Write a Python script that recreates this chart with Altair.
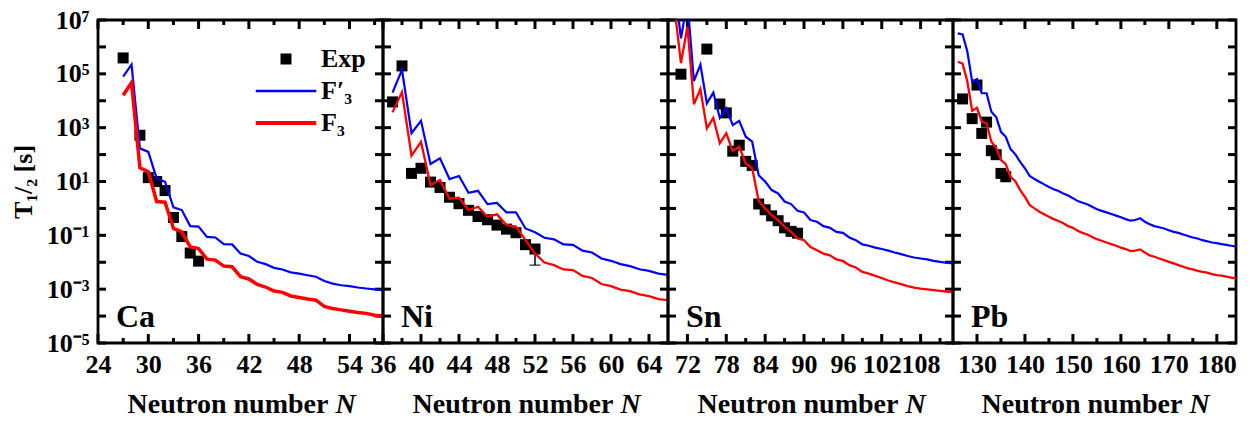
import altair as alt
import pandas as pd

FONT = "Liberation Serif"

elements = ["Ca", "Ni", "Sn", "Pb"]
series_names = ["Exp", "F\u2032\u2083", "F\u2083"]
series_colors = ["black", "blue", "red"]

ca_N = list(range(27, 59))
ca_F3p = [7.8e4, 2.2e5, 170, 126, 13, 9.8, 1.1, 0.87, 0.22, 0.21, 0.088, 0.083, 0.047, 0.046,
          0.021, 0.017, 0.0104, 0.0085, 0.0062, 0.0054, 0.0042, 0.0038, 0.0033, 0.0029, 0.0020,
          0.0016, 0.0014, 0.0013, 0.00115, 0.00106, 0.00098, 0.00091]
ca_F3 = [1.6e4, 4.7e4, 32, 23, 1.8, 1.7, 0.18, 0.135, 0.037, 0.032, 0.013, 0.012, 0.0072, 0.0068,
         0.0029, 0.0024, 0.0015, 0.0012, 0.00085, 0.00076, 0.00056, 0.00049, 0.00043, 0.00039,
         0.00023, 0.00019, 0.00017, 0.00015, 0.000135, 0.000126, 0.000108, 0.0001]
ca_exp_N = [27, 29, 30, 31, 32, 33, 34, 35, 36]
ca_exp_T = [3.9e5, 523, 13.9, 10.0, 4.6, 0.46, 0.09, 0.022, 0.011]

ni_N = list(range(37, 67))
ni_F3p = [2.0e4, 1.4e5, 620, 1800, 45, 73, 12.3, 16, 3.8, 4.5, 1.45, 1.6, 0.71, 0.71, 0.18, 0.13,
          0.081, 0.071, 0.046, 0.044, 0.027, 0.023, 0.0138, 0.0113, 0.0085, 0.0072, 0.0055,
          0.0048, 0.0038, 0.0034]
ni_F3 = [3700, 2.1e4, 91, 300, 7.4, 11.3, 2.3, 2.5, 0.87, 1.15, 0.49, 0.60, 0.24, 0.21, 0.066,
         0.021, 0.0098, 0.0078, 0.0054, 0.0051, 0.0031, 0.0026, 0.00155, 0.0013, 0.00097,
         0.00085, 0.00064, 0.00055, 0.00043, 0.00039]
ni_exp_N = [37, 38, 39, 40, 41, 42, 43, 44, 45, 46, 47, 48, 49, 50, 51, 52]
ni_exp_T = [9062, 1.97e5, 20, 31, 9.5, 6.0, 2.6, 1.5, 0.85, 0.5, 0.38, 0.24, 0.17, 0.125, 0.045, 0.031]
ni_err_N = [52]
ni_err_lo = [0.0078]
ni_err_hi = [0.045]

sn_N = list(range(70, 114))
sn_F3p = [2e8, 2.1e6, 5e7, 5.4e4, 2.2e5, 8e3, 2.0e4, 2300, 5200, 1250, 1780, 460, 300, 17, 10,
          4.8, 3.6, 1.8, 1.45, 0.81, 0.71, 0.37, 0.32, 0.22, 0.19, 0.135, 0.124, 0.083, 0.066,
          0.046, 0.041, 0.035, 0.031, 0.027, 0.023, 0.020, 0.017, 0.015, 0.0138, 0.0127,
          0.0113, 0.0104, 0.0096, 0.0090]
sn_F3 = [3e7, 2.5e5, 5.6e6, 7400, 2.7e4, 940, 2300, 265, 620, 135, 195, 47, 31, 1.9, 1.0, 0.56,
         0.37, 0.21, 0.135, 0.076, 0.066, 0.037, 0.028, 0.021, 0.018, 0.0127, 0.0112, 0.0078,
         0.0064, 0.0044, 0.0038, 0.0031, 0.0026, 0.0021, 0.0018, 0.00155, 0.0013, 0.00114,
         0.00105, 0.00098, 0.00092, 0.00087, 0.00082, 0.00078]
sn_exp_N = [71, 75, 77, 78, 79, 80, 81, 82, 83, 84, 85, 86, 87, 88, 89]
sn_exp_T = [9.7e4, 8.3e5, 7560, 3540, 134, 223, 56, 39.7, 1.46, 0.89, 0.53, 0.35, 0.19, 0.14, 0.12]

pb_N = list(range(126, 185))
pb_F3p = [3.2e6, 2.9e6, 6.6e5, 5.1e4, 6.4e4, 1.9e4, 1.9e4, 3900, 2500, 700, 460, 160, 102, 54, 31,
          16, 12.3, 9.8, 7.8, 6.3, 5.2, 4.4, 3.6, 3.0, 2.4, 1.87, 1.63, 1.42, 1.15, 0.93, 0.81,
          0.71, 0.62, 0.54, 0.47, 0.40, 0.35, 0.37, 0.43, 0.32, 0.26, 0.22, 0.20, 0.18, 0.155,
          0.135, 0.123, 0.107, 0.095, 0.083, 0.076, 0.066, 0.060, 0.054, 0.051, 0.047, 0.044,
          0.041, 0.039]
pb_F3 = [2.8e5, 2.4e5, 5.1e4, 4200, 5500, 1660, 1450, 300, 180, 63, 44, 15, 10.3, 4.8, 2.7, 1.32,
         1.0, 0.75, 0.61, 0.49, 0.40, 0.34, 0.28, 0.22, 0.19, 0.148, 0.124, 0.107, 0.087, 0.072,
         0.063, 0.054, 0.047, 0.041, 0.035, 0.031, 0.026, 0.027, 0.030, 0.023, 0.018, 0.016,
         0.0138, 0.012, 0.0104, 0.0091, 0.0078, 0.0068, 0.0059, 0.0054, 0.0048, 0.0044, 0.0041,
         0.0036, 0.0033, 0.0032, 0.0029, 0.0027, 0.0025]
pb_exp_N = [127, 129, 130, 131, 132, 133, 134, 135, 136]
pb_exp_T = [11700, 2166, 38300, 612, 1608, 140, 99, 20, 15]

x_domains = [[24, 58], [36, 66], [69, 113], [125, 184]]
x_major = [[24, 30, 36, 42, 48, 54],
           [36, 40, 44, 48, 52, 56, 60, 64],
           [72, 78, 84, 90, 96, 102, 108],
           [130, 140, 150, 160, 170, 180]]
x_minor = [[27, 33, 39, 45, 51, 57],
           [38, 42, 46, 50, 54, 58, 62],
           [75, 81, 87, 93, 99, 105, 111],
           [135, 145, 155, 165, 175]]
y_domain = [1e-5, 1e7]
y_ticks = [1e-5, 1e-4, 1e-3, 1e-2, 1e-1, 1e0, 1e1, 1e2, 1e3, 1e4, 1e5, 1e6, 1e7]
y_label_values = [1e-5, 1e-3, 1e-1, 1e1, 1e3, 1e5, 1e7]
y_label_texts = ["10\u207b\u2075", "10\u207b\u00b3", "10\u207b\u00b9", "10\u00b9",
                 "10\u00b3", "10\u2075", "10\u2077"]
x_title = "Neutron number"
x_title_var = "N"
y_title = "T\u2081/\u2082 [s]"

widths = [285, 285, 285, 283]
H = 323
MAJOR = 9
MINOR = 5
YTICK = 8
TICKW = 3
TICKC = "black"

label_expr = "'" + y_label_texts[-1] + "'"
for v, t in reversed(list(zip(y_label_values[:-1], y_label_texts[:-1]))):
    label_expr = f"datum.value < {v * 3} ? '{t}' : " + label_expr

all_N = [ca_N, ni_N, sn_N, pb_N]
all_F3p = [ca_F3p, ni_F3p, sn_F3p, pb_F3p]
all_F3 = [ca_F3, ni_F3, sn_F3, pb_F3]
all_exp_N = [ca_exp_N, ni_exp_N, sn_exp_N, pb_exp_N]
all_exp_T = [ca_exp_T, ni_exp_T, sn_exp_T, pb_exp_T]
red_widths = [3.5, 2.3, 2.3, 2.3]

LINE_PATH = "M-5.5,0H5.5"


def x_ticks(df, xs, y0, y1):
    return alt.Chart(df).mark_rule(color=TICKC, strokeWidth=TICKW).encode(
        x=alt.X("N:Q", scale=xs, axis=None), y=alt.value(y0), y2=alt.value(y1))


def y_ticks_layer(df, ys, x0, x1):
    return alt.Chart(df).mark_rule(color=TICKC, strokeWidth=TICKW).encode(
        y=alt.Y("T:Q", scale=ys, axis=None), x=alt.value(x0), x2=alt.value(x1))


panels = []
for i, el in enumerate(elements):
    W = widths[i]
    xs = alt.Scale(domain=x_domains[i], nice=False, zero=False)
    ys = alt.Scale(type="log", domain=y_domain, nice=False)

    title_left = W / 2 - 113.5
    ax_x_lab = alt.Axis(orient="bottom", values=x_major[i], ticks=False, tickSize=0,
                        domain=False, grid=False, labelFont=FONT, labelFontSize=26,
                        labelFontWeight="bold", labelColor="black", labelPadding=8,
                        labelFlush=False, labelOverlap=False,
                        title=x_title, titleFont=FONT, titleFontSize=28, titleFontWeight="bold",
                        titleColor="black", titleAlign="left", titleAngle=0,
                        titleBaseline="middle", titleX=title_left, titleY=61)
    ax_x_var = alt.Axis(orient="bottom", values=x_major[i], ticks=False, tickSize=0,
                        labels=False, domain=False, grid=False,
                        title=x_title_var, titleFont=FONT, titleFontSize=28,
                        titleFontWeight="bold", titleFontStyle="italic", titleColor="black",
                        titleAlign="left", titleAngle=0, titleBaseline="middle",
                        titleX=title_left + 208, titleY=61)
    if i == 0:
        ax_y_lab = alt.Axis(orient="left", values=y_label_values, ticks=False, tickSize=0,
                            domain=False, grid=False, labelExpr=label_expr, labelFont=FONT,
                            labelFontSize=26, labelFontWeight="bold", labelColor="black",
                            labelPadding=9, labelFlush=False, labelOverlap=False,
                            title=y_title, titleFont=FONT, titleFontSize=26,
                            titleFontWeight="bold", titleColor="black", titleAngle=270,
                            titleBaseline="middle", titleAlign="center",
                            titleX=-75, titleY=H / 2)
    else:
        ax_y_lab = None

    line_df = pd.DataFrame({"N": all_N[i], "Tb": all_F3p[i], "Tr": all_F3[i]})
    exp_df = pd.DataFrame({"N": all_exp_N[i], "T": all_exp_T[i], "series": series_names[0]})
    major_df = pd.DataFrame({"N": x_major[i]})
    minor_df = pd.DataFrame({"N": x_minor[i]})
    ytick_df = pd.DataFrame({"T": y_ticks})

    tick_layers = [
        x_ticks(major_df, xs, H, H - MAJOR),
        x_ticks(major_df, xs, 0, MAJOR),
        x_ticks(minor_df, xs, H, H - MINOR),
        x_ticks(minor_df, xs, 0, MINOR),
        y_ticks_layer(ytick_df, ys, 0, YTICK),
        y_ticks_layer(ytick_df, ys, W, W - YTICK),
    ]

    if i == 0:
        leg = alt.Legend(title=None, orient="none", legendX=175, legendY=26, labelFont=FONT,
                         labelFontSize=26, labelFontWeight="bold", labelColor="black",
                         labelOffset=22, rowPadding=6, symbolSize=121, symbolOpacity=1)
        points = alt.Chart(exp_df).mark_point(filled=True, opacity=1, size=121).encode(
            x=alt.X("N:Q", scale=xs, axis=ax_x_lab),
            y=alt.Y("T:Q", scale=ys, axis=ax_y_lab),
            shape=alt.Shape("series:N", scale=alt.Scale(domain=series_names,
                            range=["square", LINE_PATH, LINE_PATH]), legend=leg),
            fill=alt.Fill("series:N", scale=alt.Scale(domain=series_names, range=series_colors),
                          legend=leg),
            stroke=alt.Stroke("series:N", scale=alt.Scale(domain=series_names,
                              range=series_colors), legend=leg),
            strokeWidth=alt.StrokeWidth("series:O", scale=alt.Scale(type="ordinal",
                                        domain=series_names, range=[0, 2.5, 4]), legend=leg),
        )
    else:
        points = alt.Chart(exp_df).mark_square(size=121, color="black", opacity=1).encode(
            x=alt.X("N:Q", scale=xs, axis=ax_x_lab),
            y=alt.Y("T:Q", scale=ys, axis=ax_y_lab),
        )

    blue = alt.Chart(line_df).mark_line(color="blue", strokeWidth=2.2, clip=True).encode(
        x=alt.X("N:Q", scale=xs, axis=ax_x_var),
        y=alt.Y("Tb:Q", scale=ys, axis=None),
    )
    red = alt.Chart(line_df).mark_line(color="red", strokeWidth=red_widths[i], clip=True).encode(
        x=alt.X("N:Q", scale=xs, axis=None),
        y=alt.Y("Tr:Q", scale=ys, axis=None),
    )
    label = alt.Chart(pd.DataFrame({"label": [el]})).mark_text(
        font=FONT, fontSize=32, fontWeight="bold", align="left", baseline="alphabetic",
        color="black").encode(text="label:N", x=alt.value(18), y=alt.value(H - 16))

    layers = list(tick_layers)
    if i == 1:
        err_df = pd.DataFrame({"N": ni_err_N, "lo": ni_err_lo, "hi": ni_err_hi})
        rule = alt.Chart(err_df).mark_rule(color="black", strokeWidth=1.5).encode(
            x=alt.X("N:Q", scale=xs, axis=None),
            y=alt.Y("lo:Q", scale=ys, axis=None), y2="hi:Q")
        cap = alt.Chart(err_df).mark_tick(color="black", orient="horizontal", size=11,
                                          thickness=1.5).encode(
            x=alt.X("N:Q", scale=xs, axis=None),
            y=alt.Y("lo:Q", scale=ys, axis=None))
        layers += [rule, cap]
    layers += [points, blue, red, label]

    panel = alt.layer(*layers).resolve_axis(x="independent", y="independent").properties(
        width=W, height=H)
    panels.append(panel)

chart = alt.hconcat(*panels, spacing=0, bounds="flush").properties(
    padding={"left": 0, "right": 0, "top": -3, "bottom": 0}
).configure_view(stroke="black", strokeWidth=2.8)

chart.save("out.html", embed_options={"renderer": "svg", "actions": False})
